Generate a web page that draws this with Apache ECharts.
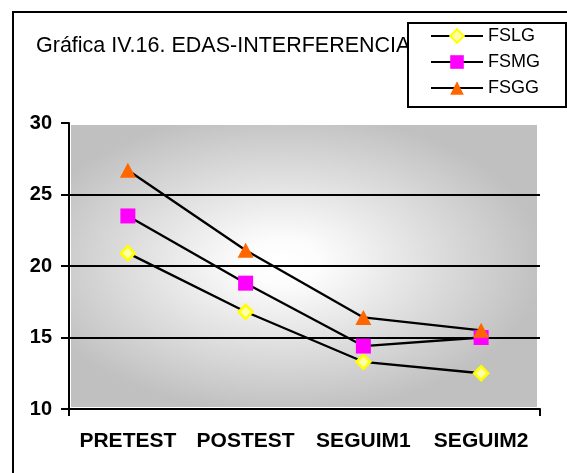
<!DOCTYPE html>
<html>
<head>
<meta charset="utf-8">
<script src="https://cdn.jsdelivr.net/npm/echarts@6/dist/echarts.min.js"></script>
<style>
  html, body { margin: 0; padding: 0; background: #fff; }
  #chart { width: 567px; height: 473px; }
</style>
</head>
<body>
<div id="chart"></div>
<script>
// Test phases on the category axis
const categories = ['PRETEST', 'POSTEST', 'SEGUIM1', 'SEGUIM2'];

// Mean scores per group
const fslg = [20.9, 16.8, 13.3, 12.5];
const fsmg = [23.5, 18.8, 14.4, 15.0];
const fsgg = [26.7, 21.1, 16.4, 15.5];

// Value axis range and step
const yMin = 10;
const yMax = 30;
const yStep = 5;

const FONT = '"Liberation Sans", Arial, sans-serif';

// Plot frame
const gridLeft = 69, gridTop = 123, gridRight = 27, gridBottom = 64;
const W = 567, H = 473;
const plotX = gridLeft + 2, plotY = gridTop + 2;
const plotW = W - gridLeft - gridRight - 5;
const plotH = H - gridTop - gridBottom - 4;
// Elliptical "from centre" shading: stretch factor for the gradient
const stretch = 1.73;

const chart = echarts.init(document.getElementById('chart'), null, { renderer: 'canvas' });

const lineBase = {
  type: 'line',
  lineStyle: { color: '#000', width: 2.3 },
  emphasis: { disabled: true },
  z: 3
};

chart.setOption({
  animation: false,
  backgroundColor: '#fff',
  textStyle: { fontFamily: FONT },
  title: {
    text: 'Gráfica IV.16. EDAS-INTERFERENCIA',
    left: 31,
    top: 30,
    z: 5,
    textStyle: { fontFamily: FONT, fontSize: 21.5, fontWeight: 'normal', color: '#000' }
  },
  legend: {
    left: 408,
    top: 23,
    orient: 'vertical',
    z: 8,
    backgroundColor: '#fff',
    borderColor: '#000',
    borderWidth: 2,
    borderRadius: 0,
    padding: [3, 26, 9, 22],
    itemWidth: 52,
    itemHeight: 17,
    itemGap: 6,
    textStyle: { fontFamily: FONT, fontSize: 18, lineHeight: 20, color: '#000' },
    data: ['FSLG', 'FSMG', 'FSGG']
  },
  grid: { left: gridLeft, top: gridTop, right: gridRight, bottom: gridBottom, containLabel: false },
  graphic: [
    {
      type: 'rect',
      x: plotX,
      y: plotY,
      scaleY: 1 / stretch,
      z: -10,
      silent: true,
      shape: { x: 0, y: 0, width: plotW, height: plotH * stretch },
      style: {
        fill: {
          type: 'radial',
          x: 0.453, y: 0.486, r: 0.56,
          colorStops: [
            { offset: 0, color: '#ffffff' },
            { offset: 0.15, color: '#fcfcfc' },
            { offset: 1, color: '#c0c0c0' }
          ]
        }
      }
    },
    {
      type: 'rect',
      x: 13,
      y: 12,
      z: 20,
      silent: true,
      shape: { x: 0, y: 0, width: 700, height: 600 },
      style: { fill: null, stroke: '#000', lineWidth: 2 }
    }
  ],
  xAxis: {
    type: 'category',
    data: categories,
    boundaryGap: true,
    axisLine: { show: true, lineStyle: { color: '#000', width: 2 } },
    axisTick: {
      show: true,
      length: 7,
      interval: function (index) { return index === 0; },
      lineStyle: { color: '#000', width: 2 }
    },
    axisLabel: {
      margin: 22,
      interval: 0,
      fontFamily: FONT,
      fontSize: 21,
      fontWeight: 'bold',
      color: '#000'
    },
    splitLine: { show: false }
  },
  yAxis: {
    type: 'value',
    min: yMin,
    max: yMax,
    interval: yStep,
    axisLine: { show: true, lineStyle: { color: '#000', width: 2 } },
    axisTick: { show: true, length: 8, lineStyle: { color: '#000', width: 2 } },
    axisLabel: {
      margin: 17,
      fontFamily: FONT,
      fontSize: 20,
      fontWeight: 'bold',
      color: '#000'
    },
    splitLine: {
      show: true,
      showMinLine: false,
      showMaxLine: false,
      lineStyle: { color: '#000', width: 2 }
    }
  },
  series: [
    Object.assign({}, lineBase, {
      name: 'FSLG',
      data: fslg,
      symbol: 'diamond',
      symbolSize: 14,
      itemStyle: { color: '#FFFFA8', borderColor: '#FFFF00', borderWidth: 2.5 }
    }),
    Object.assign({}, lineBase, {
      name: 'FSMG',
      data: fsmg,
      symbol: 'rect',
      symbolSize: 15,
      itemStyle: { color: '#FF00FF', borderWidth: 0 }
    }),
    Object.assign({}, lineBase, {
      name: 'FSGG',
      data: fsgg,
      symbol: 'triangle',
      symbolSize: [16, 15],
      itemStyle: { color: '#FF6600', borderWidth: 0 }
    })
  ]
});
</script>
</body>
</html>
